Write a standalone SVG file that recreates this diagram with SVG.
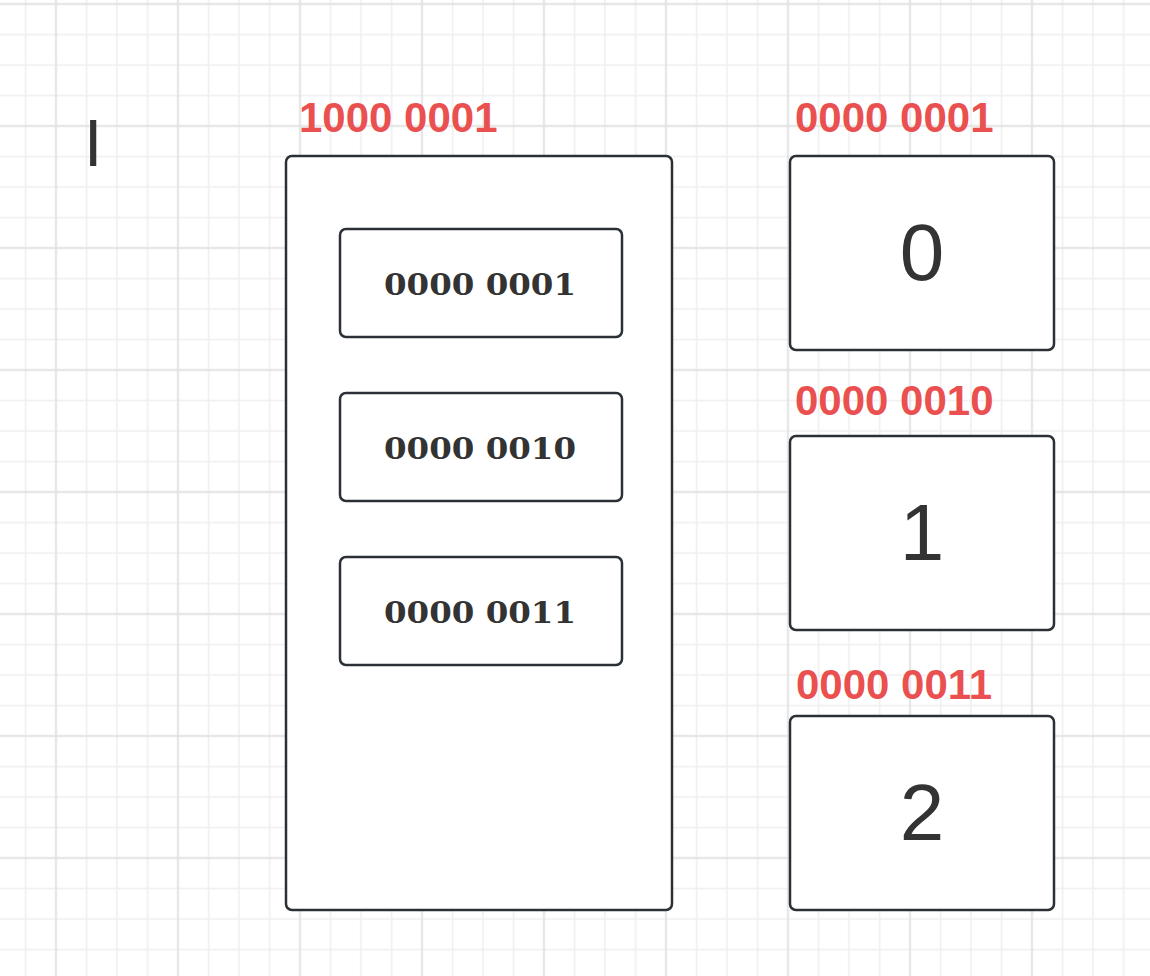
<svg xmlns="http://www.w3.org/2000/svg" width="1150" height="976" viewBox="0 0 1150 976">
  <style>
    .box { fill: #ffffff; stroke: #2b3036; stroke-width: 2.5; }
    .red { font-family: "Liberation Sans", Arial, sans-serif; font-weight: bold; font-size: 42px; fill: #e9504f; }
    .big { font-family: "Liberation Sans", Arial, sans-serif; font-size: 80px; fill: #333333; text-anchor: middle; }
    .inner { font-family: "DejaVu Serif", serif; font-weight: bold; font-size: 29px; fill: #333333; text-anchor: middle; }
  </style>
  <defs>
    <pattern id="grid" patternUnits="userSpaceOnUse" x="40.75" y="-11.25" width="122" height="122">
      <path d="M45.75 0V122M76.25 0V122M106.75 0V122M0 45.75H122M0 76.25H122M0 106.75H122" stroke="#efefef" stroke-width="1.6" fill="none"/>
      <path d="M15.25 0V122M0 15.25H122" stroke="#e2e2e2" stroke-width="2" fill="none"/>
    </pattern>
  </defs>
  <rect x="0" y="0" width="1150" height="976" fill="#ffffff"/>
  <rect x="0" y="0" width="1150" height="976" fill="url(#grid)"/>

  <text id="cursor" x="84" y="166" font-family="'Liberation Sans', Arial, sans-serif" font-size="66" fill="#333333">I</text>

  <g id="outer">
    <text class="red" x="299" y="132">1000 0001</text>
    <rect class="box" x="286" y="156" width="386" height="754" rx="6"/>
  </g>
  <g id="inner1">
    <rect class="box" x="340" y="229" width="282" height="108" rx="6"/>
    <text class="inner" x="480" y="295" textLength="192" lengthAdjust="spacingAndGlyphs">0000 0001</text>
  </g>
  <g id="inner2">
    <rect class="box" x="340" y="393" width="282" height="108" rx="6"/>
    <text class="inner" x="480" y="459" textLength="192" lengthAdjust="spacingAndGlyphs">0000 0010</text>
  </g>
  <g id="inner3">
    <rect class="box" x="340" y="557" width="282" height="108" rx="6"/>
    <text class="inner" x="480" y="623" textLength="192" lengthAdjust="spacingAndGlyphs">0000 0011</text>
  </g>

  <g id="cell0">
    <text class="red" x="795" y="132">0000 0001</text>
    <rect class="box" x="790" y="156" width="264" height="194" rx="6"/>
    <text class="big" x="922" y="280">0</text>
  </g>
  <g id="cell1">
    <text class="red" x="795" y="415">0000 0010</text>
    <rect class="box" x="790" y="436" width="264" height="194" rx="6"/>
    <text class="big" x="922" y="560">1</text>
  </g>
  <g id="cell2">
    <text class="red" x="796" y="699">0000 0011</text>
    <rect class="box" x="790" y="716" width="264" height="194" rx="6"/>
    <text class="big" x="922" y="840">2</text>
  </g>
  <g id="connectors"/>
</svg>
